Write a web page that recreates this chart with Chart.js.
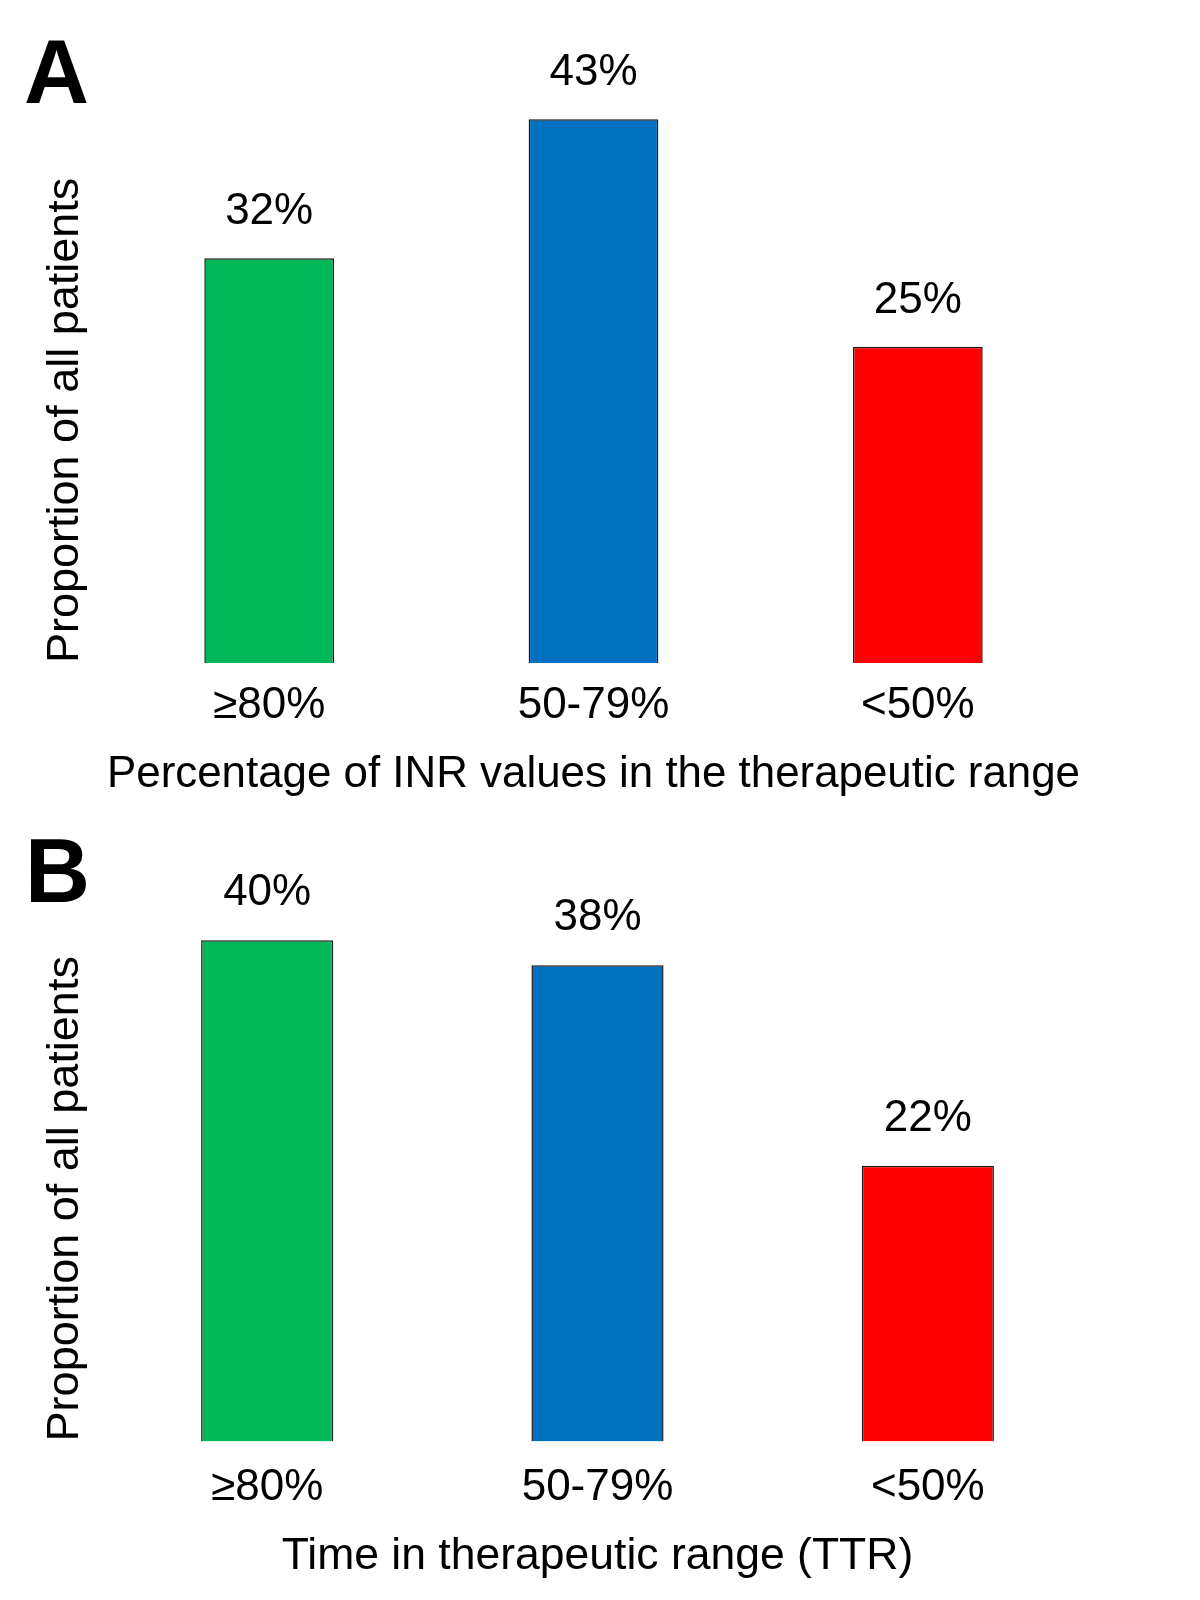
<!DOCTYPE html>
<html lang="en">
<head>
    <meta charset="UTF-8">
    <title>INR and TTR distribution</title>
    <script src="https://cdn.jsdelivr.net/npm/chart.js"></script>
    <style>
        body {
            margin: 0;
            background: #fff;
            font-family: 'Liberation Sans', Arial, sans-serif;
        }
        .panel {
            position: absolute;
            left: 0;
            width: 1200px;
            height: 800px;
        }
        .letter {
            position: absolute;
            font-weight: bold;
            font-size: 90px;
            line-height: 1;
            color: #000;
        }
    </style>
</head>
<body>
    <div class="panel" style="top:0"><canvas id="chartA" width="1200" height="800"></canvas></div>
    <div class="panel" style="top:800px"><canvas id="chartB" width="1200" height="800"></canvas></div>
    <div class="letter" style="left:24px; top:27px">A</div>
    <div class="letter" style="left:25px; top:826px">B</div>

    <script>
        const categories = ['≥80%', '50-79%', '<50%'];
        const inrValues = [32, 43, 25];
        const ttrValues = [40, 38, 22];
        const barColors = ['#00B85A', '#0070C0', '#FF0000'];
        const yTitle = 'Proportion of all patients';
        const xTitleA = 'Percentage of INR values in the therapeutic range';
        const xTitleB = 'Time in therapeutic range (TTR)';

        const FONT = "'Liberation Sans', Arial, sans-serif";

        // values written above each bar
        const valueLabels = {
            id: 'valueLabels',
            afterDatasetsDraw(chart) {
                const ctx = chart.ctx;
                const meta = chart.getDatasetMeta(0);
                ctx.save();
                ctx.font = '44px ' + FONT;
                ctx.fillStyle = '#000';
                ctx.textAlign = 'center';
                ctx.textBaseline = 'middle';
                meta.data.forEach((bar, i) => {
                    const v = chart.data.datasets[0].data[i];
                    ctx.fillText(v + '%', bar.x, bar.y - chart.options.labelGap);
                });
                ctx.restore();
            }
        };

        function makeChart(id, values, xTitle, lay) {
            return new Chart(document.getElementById(id), {
                type: 'bar',
                data: {
                    labels: categories,
                    datasets: [{
                        data: values,
                        backgroundColor: barColors,
                        borderColor: '#1a1a1a',
                        borderWidth: 1.5,
                        categoryPercentage: 1,
                        barPercentage: 0.4
                    }]
                },
                options: {
                    responsive: false,
                    animation: false,
                    devicePixelRatio: 1,
                    labelGap: lay.gap,
                    layout: { padding: lay.padding },
                    plugins: {
                        legend: { display: false },
                        tooltip: { enabled: false }
                    },
                    scales: {
                        x: {
                            grid: { display: false, drawTicks: false },
                            border: { display: false },
                            ticks: { color: '#000', font: { size: 44, family: FONT, lineHeight: 1 }, padding: lay.tickPad },
                            title: {
                                display: true, text: xTitle, color: '#000',
                                font: { size: lay.titleSize, family: FONT, lineHeight: 0.8 },
                                padding: { top: lay.titlePad, bottom: 0 }
                            }
                        },
                        y: {
                            min: 0,
                            max: 48,
                            grid: { display: false, drawTicks: false },
                            border: { display: false },
                            ticks: { display: false },
                            title: {
                                display: true, text: yTitle, color: '#000', align: 'start',
                                font: { size: 45, family: FONT, lineHeight: 1 },
                                padding: { top: 0, bottom: lay.yTitlePad }
                            }
                        }
                    }
                },
                plugins: [valueLabels]
            });
        }

        makeChart('chartA', inrValues, xTitleA, {
            padding: { top: 56, left: 43.5, right: 120, bottom: 7 },
            tickPad: 21, titlePad: 8, titleSize: 45, yTitlePad: 18.5, gap: 46
        });
        makeChart('chartB', ttrValues, xTitleB, {
            padding: { top: 40, left: 43.5, right: 107, bottom: 25 },
            tickPad: 24, titlePad: 6, titleSize: 44.5, yTitlePad: 13.5, gap: 47
        });
    </script>
</body>
</html>
